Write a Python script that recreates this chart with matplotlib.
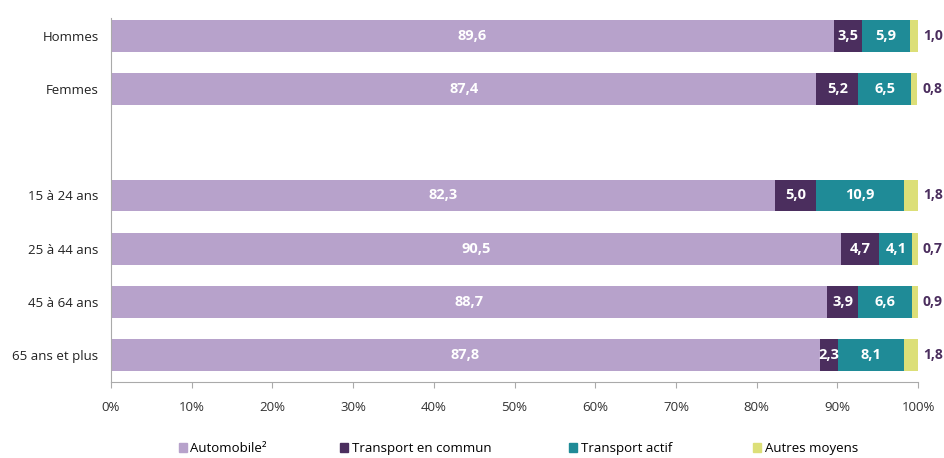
import numpy as np
import matplotlib.pyplot as plt
from matplotlib.patches import Patch

plt.rcParams['font.family'] = ['Open Sans', 'DejaVu Sans']

groupes = ['Hommes', 'Femmes', '', '15 à 24 ans', '25 à 44 ans', '45 à 64 ans', '65 ans et plus']
automobile = [89.6, 87.4, np.nan, 82.3, 90.5, 88.7, 87.8]
commun = [3.5, 5.2, np.nan, 5.0, 4.7, 3.9, 2.3]
actif = [5.9, 6.5, np.nan, 10.9, 4.1, 6.6, 8.1]
autres = [1.0, 0.8, np.nan, 1.8, 0.7, 0.9, 1.8]

series = ['Automobile²', 'Transport en commun', 'Transport actif', 'Autres moyens']
couleurs = ['#b7a2cb', '#4b2e5e', '#1f8b97', '#dcdf78']
valeurs = [automobile, commun, actif, autres]

fig = plt.figure(figsize=(9.45, 4.58), dpi=100)
ax = fig.add_axes([0.1175, 0.166, 0.854, 0.7947])

y = np.arange(len(groupes))
gauche = np.zeros(len(groupes))
for nom, coul, vals in zip(series, couleurs, valeurs):
    v = np.array(vals, dtype=float)
    ax.barh(y, np.nan_to_num(v), left=gauche, height=0.6, color=coul, label=nom)
    for i, val in enumerate(v):
        if np.isnan(val):
            continue
        txt = f'{val:.1f}'.replace('.', ',')
        if nom == 'Autres moyens':
            ax.text(100.6, i, txt, va='center', ha='left', fontsize=10,
                    color='#4b2e5e', fontweight='bold')
        else:
            ax.text(gauche[i] + val / 2, i, txt, va='center', ha='center',
                    fontsize=10.5, color='white', fontweight='bold')
    gauche += np.nan_to_num(v)

ax.set_xlim(0, 100)
ax.set_ylim(6.51, -0.34)
ax.set_yticks([i for i, g in enumerate(groupes) if g])
ax.set_yticklabels([g for g in groupes if g], fontsize=9.5, color='#222222')
ax.tick_params(axis='y', length=0, pad=9)
ax.set_xticks(np.arange(0, 101, 10))
ax.set_xticklabels([f'{t}%' for t in range(0, 101, 10)], fontsize=9.5, color='#333333')
ax.tick_params(axis='x', direction='out', length=4, color='#aaaaaa', pad=10)
for s in ['top', 'right']:
    ax.spines[s].set_visible(False)
for s in ['left', 'bottom']:
    ax.spines[s].set_color('#aaaaaa')

# une entrée de légende par série, placées à la main
positions = [0.189, 0.360, 0.602, 0.797]
for nom, coul, x0 in zip(series, couleurs, positions):
    fig.legend([Patch(color=coul)], [nom], loc='center left', bbox_to_anchor=(x0, 0.02),
               frameon=False, fontsize=9.5, handlelength=0.6, handleheight=0.6,
               handletextpad=0.3, borderpad=0, borderaxespad=0)

fig.savefig('out.png', dpi=100)
